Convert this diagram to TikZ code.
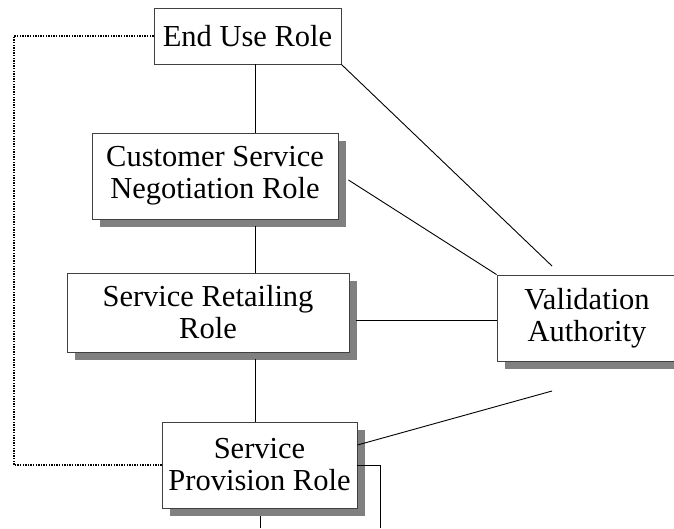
\documentclass[tikz,border=0pt]{standalone}
\usepackage{fontspec}
\setmainfont{Liberation Serif}
\usetikzlibrary{shadows,calc}
\begin{document}
\begin{tikzpicture}[x=1pt,y=-1pt,
  rolebox/.style={draw=black!75, line width=0.9pt, fill=white, inner sep=0pt,
    align=center, font=\fontsize{30.5}{32}\selectfont},
  shadowed/.style={drop shadow={shadow xshift=8pt, shadow yshift=-8pt, fill=black!50, opacity=1}},
  link/.style={draw=black, line width=0.9pt},
  dotlink/.style={draw=black, line width=1.4pt, dash pattern=on 1.3pt off 1.3pt}]
\useasboundingbox (0,0) rectangle (674,528);
\node[rolebox, minimum width=187pt, minimum height=56pt] (endrole) at (247.5,36) {End Use Role};
\node[rolebox, shadowed, minimum width=246pt, minimum height=86pt] (cust) at (215,176) {Customer Service\\Negotiation Role};
\node[rolebox, shadowed, minimum width=282pt, minimum height=79pt] (retail) at (208,312.5) {Service Retailing\\Role};
\node[rolebox, shadowed, minimum width=180pt, minimum height=86pt] (valid) at (587,318) {Validation\\Authority};
\node[rolebox, shadowed, minimum width=195pt, minimum height=86pt] (prov) at (259.5,465) {Service\\Provision Role};
\coordinate (e1) at (552,266);
\coordinate (e2) at (552,391);
\coordinate (c1) at (14,36);
\coordinate (c2) at (14,465);
\coordinate (b1) at (380,528);
\coordinate (b2) at (260,528);
% vertical chain
\draw[link] (endrole.south -| 255,0) -- (cust.north -| 255,0);
\draw[link] ([yshift=-7pt]cust.south -| 255,0) -- (retail.north -| 255,0);
\draw[link] ([yshift=-7pt]retail.south -| 255,0) -- (prov.north -| 255,0);
\draw[link] ([yshift=-8pt]prov.south -| b2) -- (b2);
% to validation
\draw[link] (endrole.south east) -- (e1);
\draw[link] ([shift={(10pt,-4pt)}]cust.east) -- (valid.north west);
\draw[link] ([xshift=7pt]retail.east |- 0,320) -- (valid.west |- 0,320);
\draw[link] ([yshift=20pt]prov.east) -- (e2);
\draw[link] (prov.east) -- (prov.east -| b1) -- (b1);
% dotted
\draw[dotlink] (endrole.west) -- (c1) -- (c2) -- (prov.west);
\end{tikzpicture}
\end{document}
